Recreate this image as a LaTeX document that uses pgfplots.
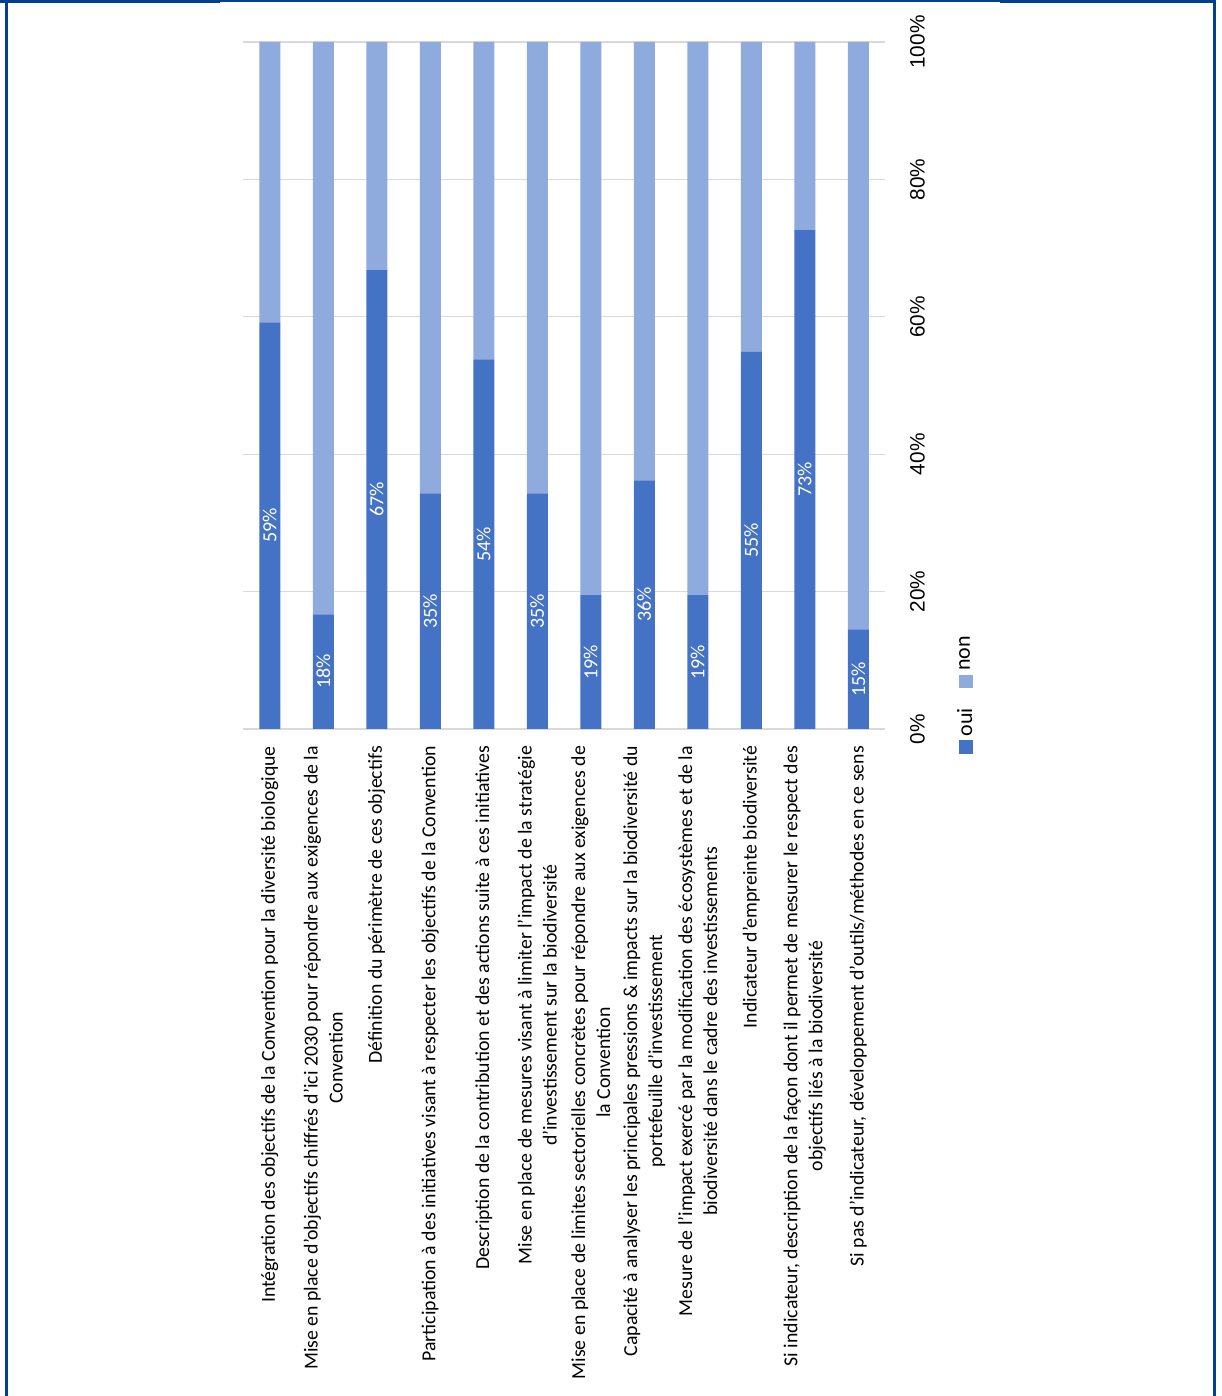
\documentclass[border=0pt]{standalone}
\usepackage{fontspec}
\setmainfont{Carlito}
\newfontfamily\arialfont{Liberation Sans}
\usepackage{pgfplots}
\pgfplotsset{compat=1.18}
\definecolor{oui}{HTML}{4472C4}
\definecolor{non}{HTML}{8FAADC}
\definecolor{gridc}{HTML}{D9D9D9}
\definecolor{framec}{HTML}{00408F}
\pgfplotsset{geom/.style={at={(121.5pt,333.5pt)}, anchor=south west,
  scale only axis, width=321pt, height=343.5pt,
  xmin=-0.5, xmax=11.5, ymin=0, ymax=100}}
\begin{document}
\begin{tikzpicture}
\useasboundingbox (0,0) rectangle (610.5pt,698pt);
\draw[framec, line width=1.5pt] (3pt,-10pt) -- (3pt,697.25pt);
\draw[framec, line width=1.5pt] (607.25pt,-10pt) -- (607.25pt,697.25pt);
\draw[framec, line width=1.6pt] (0pt,697.2pt) -- (110pt,697.2pt);
\draw[framec, line width=1.2pt] (110pt,697.4pt) -- (500pt,697.4pt);
\draw[framec, line width=1.6pt] (500pt,697.2pt) -- (608pt,697.2pt);
\begin{axis}[geom,
  ybar stacked, bar width=10.5pt,
  xtick={0,...,11},
  xticklabels={
    {Intégration des objectifs de la Convention pour la diversité biologique},
    {Mise en place d'objectifs chiffrés d'ici 2030 pour répondre aux exigences de la\\Convention},
    {Définition du périmètre de ces objectifs},
    {Participation à des initiatives visant à respecter les objectifs de la Convention},
    {Description de la contribution et des actions suite à ces initiatives},
    {Mise en place de mesures visant à limiter l'impact de la stratégie\\d'investissement sur la biodiversité},
    {Mise en place de limites sectorielles concrètes pour répondre aux exigences de\\la Convention},
    {Capacité à analyser les principales pressions \& impacts sur la biodiversité du\\portefeuille d'investissement},
    {Mesure de l'impact exercé par la modification des écosystèmes et de la\\biodiversité dans le cadre des investissements},
    {Indicateur d'empreinte biodiversité},
    {Si indicateur, description de la façon dont il permet de mesurer le respect des\\objectifs liés à la biodiversité},
    {Si pas d'indicateur, développement d'outils/méthodes en ce sens}},
  xticklabel style={rotate=90, anchor=east, align=center, font=\fontsize{9.9}{12.5}\selectfont, text=black},
  xticklabel shift=5pt,
  ytick={0,20,40,60,80,100},
  yticklabels={{\arialfont 0\%},{\arialfont 20\%},{\arialfont 40\%},{\arialfont 60\%},{\arialfont 80\%},{\arialfont 100\%}},
  yticklabel pos=right,
  yticklabel style={rotate=90, anchor=north, font=\fontsize{10.4}{11}\selectfont, text=black},
  yticklabel shift=9pt,
  ymajorgrids, grid style={gridc, line width=0.6pt},
  axis line style={draw=none},
  major tick length=0pt,
  legend to name=leg,
  legend style={draw=none, fill=none,
    legend columns=2, font=\fontsize{11}{13}\selectfont,
    /tikz/every even column/.append style={column sep=8pt}},
  legend image code/.code={\path[#1, draw=none] (0pt,-3.4pt) rectangle (6.8pt,3.4pt);},
]
\addplot[fill=oui, draw=none]
coordinates {
(0,59.2)
(1,16.7)
(2,66.8)
(3,34.3)
(4,53.8)
(5,34.3)
(6,19.5)
(7,36.2)
(8,19.5)
(9,54.9)
(10,72.6)
(11,14.5)
};
\addlegendentry{oui}
\addplot[fill=non, draw=none]
coordinates {
(0,40.8)
(1,83.3)
(2,33.2)
(3,65.7)
(4,46.2)
(5,65.7)
(6,80.5)
(7,63.8)
(8,80.5)
(9,45.1)
(10,27.4)
(11,85.5)
};
\addlegendentry{non}
\end{axis}
\begin{axis}[geom, hide axis, clip=false]
\addplot[draw=none, mark=none,
  point meta=explicit symbolic,
  nodes near coords,
  nodes near coords style={rotate=90, anchor=center, text=white, font=\fontsize{10}{12}\selectfont}]
coordinates {
(0,29.6) [59\%]
(1,8.35) [18\%]
(2,33.4) [67\%]
(3,17.15) [35\%]
(4,26.9) [54\%]
(5,17.15) [35\%]
(6,9.75) [19\%]
(7,18.1) [36\%]
(8,9.75) [19\%]
(9,27.45) [55\%]
(10,36.3) [73\%]
(11,7.25) [15\%]
};
\end{axis}
\node[rotate=90, inner sep=0pt] at (483pt,351.5pt) {\pgfplotslegendfromname{leg}};
\end{tikzpicture}
\end{document}
